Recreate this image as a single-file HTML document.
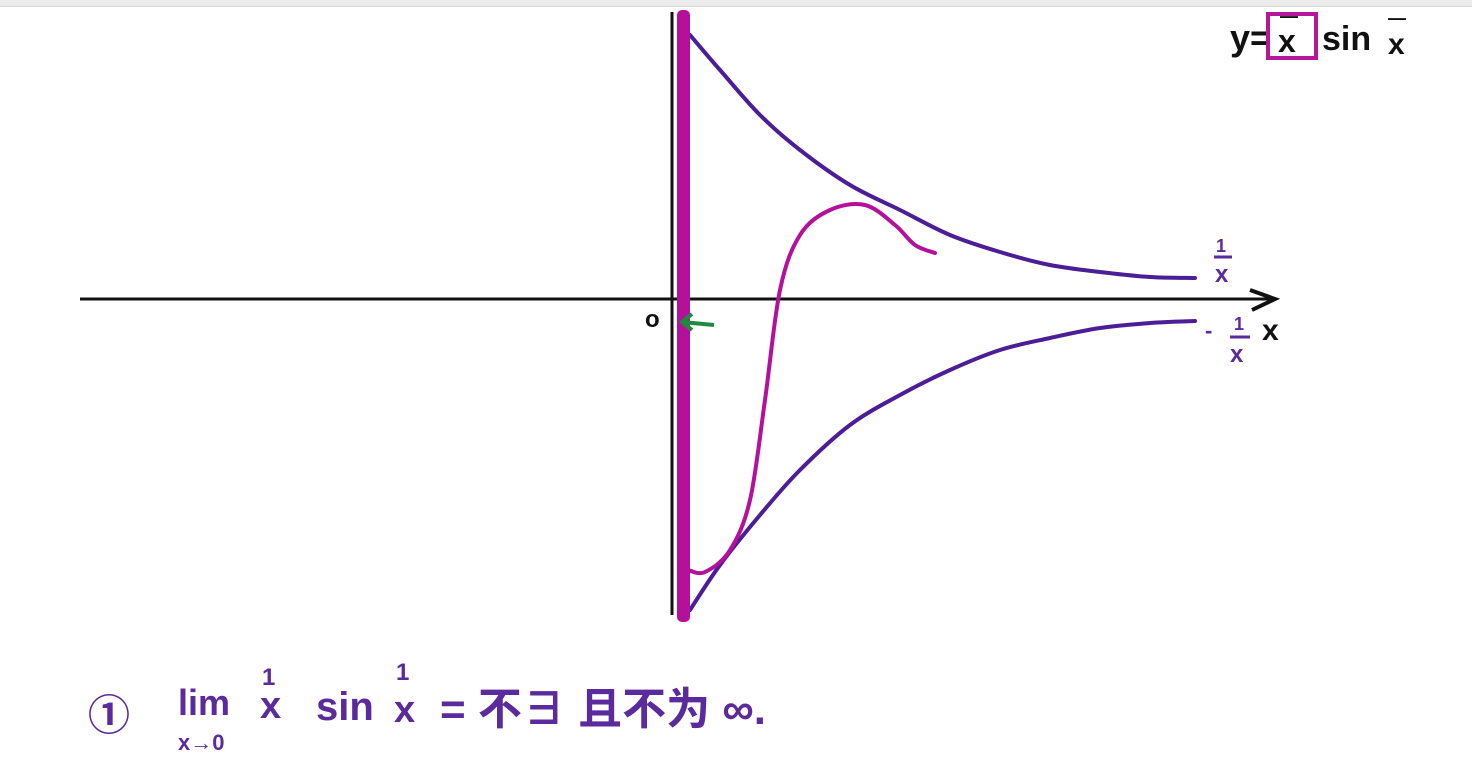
<!DOCTYPE html>
<html><head><meta charset="utf-8"><style>
html,body{margin:0;padding:0;background:#fff;}
svg{display:block;font-family:"Liberation Sans","Noto Sans CJK SC",sans-serif;}
</style></head><body>
<svg width="1472" height="766" viewBox="0 0 1472 766">
<rect x="0" y="0" width="1472" height="6" fill="#ececec"/>
<line x1="0" y1="6.5" x2="1472" y2="6.5" stroke="#d8d8d8"/>
<g id="plot"></g>
<g font-weight="bold" fill="#111">
<text x="1230" y="50" font-size="36">y=</text>
<rect x="1268" y="14" width="48" height="44" fill="none" stroke="#b5169a" stroke-width="4"/>
<text x="1280" y="22" font-size="18">—</text>
<text x="1278" y="52" font-size="32">x</text>
<text x="1322" y="50" font-size="34">sin</text>
<text x="1388" y="54" font-size="30">x</text>
<text x="1388" y="24" font-size="18">—</text>
</g>
<g fill="#5b2a9c" font-weight="bold">
<text x="1216" y="252" font-size="18">1</text><line x1="1214" y1="257" x2="1232" y2="257" stroke="#5b2a9c" stroke-width="3"/>
<text x="1215" y="282" font-size="24">x</text>
</g>
<g fill="#5b2a9c" font-weight="bold">
<text x="1205" y="338" font-size="22">-</text>
<text x="1234" y="330" font-size="18">1</text><line x1="1230" y1="337" x2="1250" y2="337" stroke="#5b2a9c" stroke-width="3"/>
<text x="1230" y="362" font-size="24">x</text>
</g>
<text x="1262" y="340" font-size="30" font-weight="bold" fill="#111">x</text>
<text x="645" y="327" font-size="24" font-weight="bold" fill="#111">o</text>
<g stroke="#1e8a3c" stroke-width="4" fill="none">
<line x1="714" y1="325" x2="682" y2="322"/><polyline points="692,314 682,322 692,330"/>
</g>
<g fill="#5b2a9c" font-weight="bold">
<text x="88" y="730" font-size="42">①</text>
<text x="178" y="715" font-size="36">lim</text>
<text x="178" y="750" font-size="22">x→0</text>
<text x="262" y="685" font-size="24">1</text>
<text x="260" y="718" font-size="38">x</text>
<text x="316" y="720" font-size="40">sin</text>
<text x="396" y="680" font-size="24">1</text>
<text x="394" y="722" font-size="38">x</text>
<text x="440" y="724" font-size="44">= 不∃ 且不为 ∞.</text>
</g>
</svg>
<script>
const upperX=[0.1,0.4,0.8,1.2,1.7,2.2,2.7,3.2,3.7,4.2,4.7,5.15];
const upperY=[2.64,2.29,1.84,1.49,1.14,0.89,0.64,0.47,0.34,0.27,0.22,0.21];
const lowerX=[0.1,0.4,0.8,1.2,1.7,2.2,2.7,3.2,3.7,4.2,4.7,5.15];
const lowerY=[-3.11,-2.66,-2.16,-1.71,-1.26,-0.96,-0.71,-0.51,-0.39,-0.29,-0.24,-0.22];
const waveX=[0.08,0.25,0.5,0.7,0.85,1.0,1.2,1.5,1.85,2.15,2.35,2.55];
const waveY=[-2.71,-2.73,-2.51,-2.01,-1.01,0.09,0.64,0.89,0.94,0.74,0.54,0.46];
const NS='http://www.w3.org/2000/svg';
const sx=v=>680+v*100, sy=v=>299-v*100;
const g=document.getElementById('plot');
function mk(tag,attrs){const e=document.createElementNS(NS,tag);for(const k in attrs)e.setAttribute(k,attrs[k]);g.appendChild(e);return e;}
function pathOf(xs,ys){
  const p=xs.map((x,i)=>[sx(x),sy(ys[i])]);
  let d='M'+p[0][0].toFixed(1)+','+p[0][1].toFixed(1);
  for(let i=0;i<p.length-1;i++){
    const p0=p[i-1]||p[i],p1=p[i],p2=p[i+1],p3=p[i+2]||p2;
    const c1=[p1[0]+(p2[0]-p0[0])/6,p1[1]+(p2[1]-p0[1])/6];
    const c2=[p2[0]-(p3[0]-p1[0])/6,p2[1]-(p3[1]-p1[1])/6];
    d+=' C'+c1.map(v=>v.toFixed(1)).join(',')+' '+c2.map(v=>v.toFixed(1)).join(',')+' '+p2.map(v=>v.toFixed(1)).join(',');
  }
  return d;
}
let e;
e=mk('line',{x1:80,y1:299,x2:1272,y2:299,stroke:'#111','stroke-width':3});


e=mk('polyline',{points:'1250,290 1275,299 1252,310',fill:'none',stroke:'#111','stroke-width':4});


e=mk('line',{x1:672,y1:12,x2:672,y2:615,stroke:'#111','stroke-width':3});


e=mk('path',{d:pathOf(upperX,upperY),fill:'none',stroke:'#4b1d96','stroke-width':4,'stroke-linecap':'round','stroke-linejoin':'round'});


e=mk('path',{d:pathOf(lowerX,lowerY),fill:'none',stroke:'#4b1d96','stroke-width':4,'stroke-linecap':'round','stroke-linejoin':'round'});


e=mk('rect',{x:677,y:10,width:13,height:612,fill:'#b5109b',rx:5});


e=mk('path',{d:pathOf(waveX,waveY),fill:'none',stroke:'#b5109b','stroke-width':4,'stroke-linecap':'round','stroke-linejoin':'round'});


</script>
</body></html>
